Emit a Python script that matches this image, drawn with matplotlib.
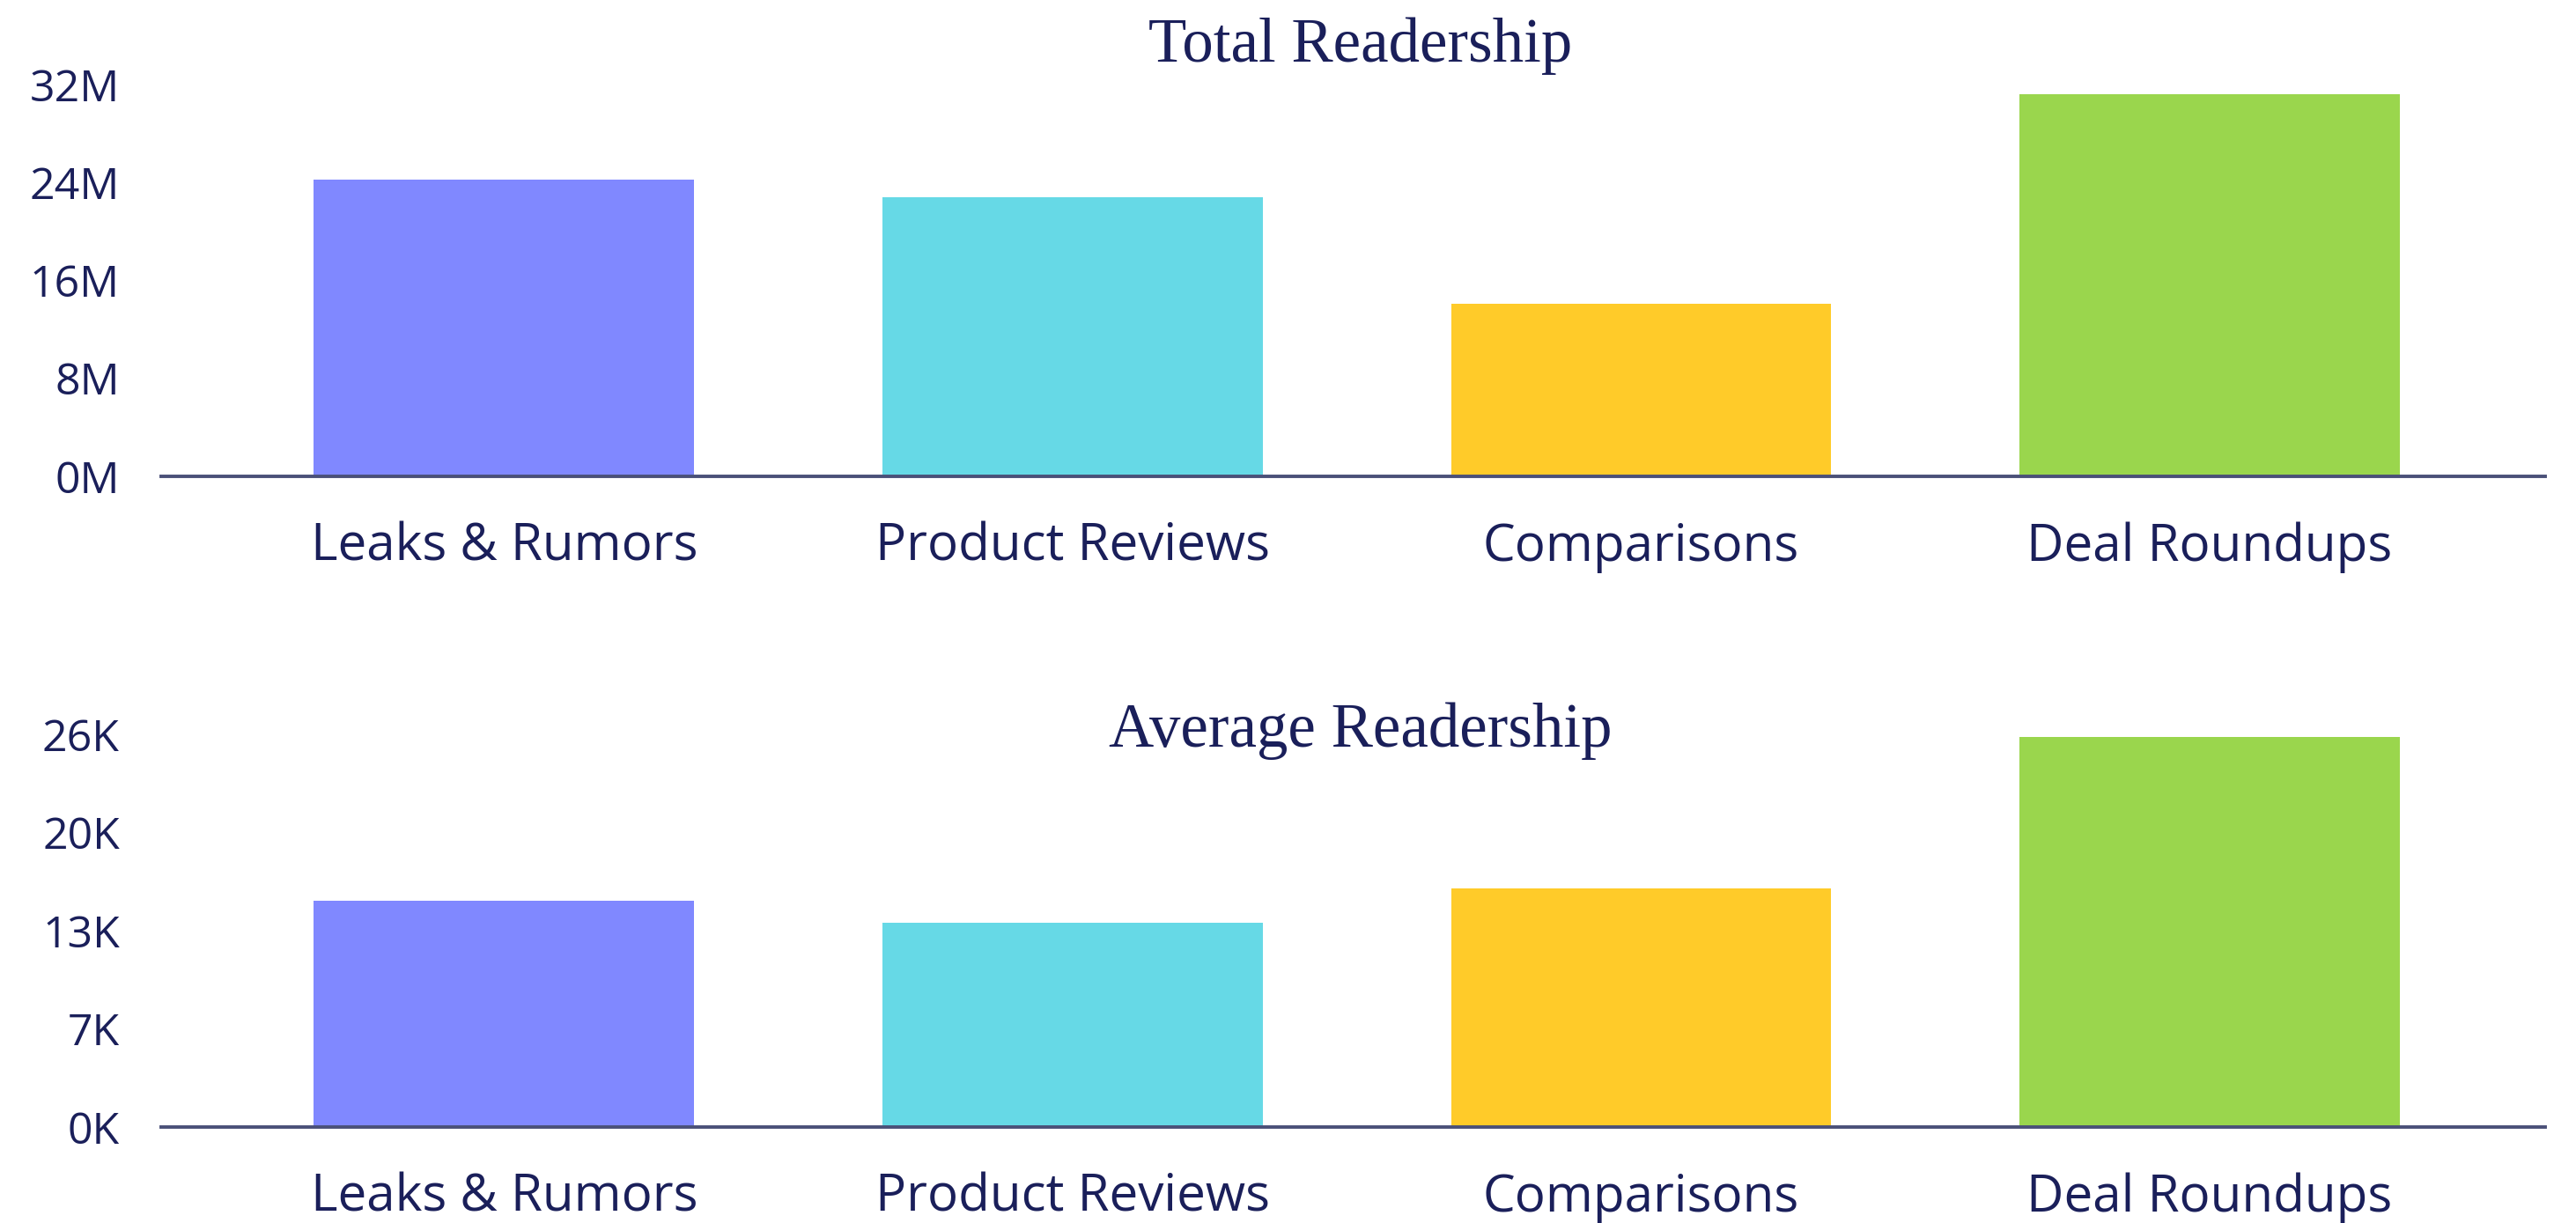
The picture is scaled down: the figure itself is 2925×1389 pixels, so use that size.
import matplotlib
matplotlib.use("Agg")
import matplotlib.pyplot as plt

categories = ["Leaks & Rumors", "Product Reviews", "Comparisons", "Deal Roundups"]
total_readership = [24.2e6, 22.8e6, 14.1e6, 31.2e6]
average_readership = [15.0e3, 13.5e3, 15.8e3, 25.8e3]
total_ticks = [0, 8e6, 16e6, 24e6, 32e6]
total_tick_labels = ["0M", "8M", "16M", "24M", "32M"]
avg_ticks = [0, 6500, 13000, 19500, 26000]
avg_tick_labels = ["0K", "7K", "13K", "20K", "26K"]
colors = ["#8088FF", "#66D9E6", "#FFCB29", "#9AD64D"]

TEXT = "#1A1F5A"
AXLINE = "#4A5078"
W, H = 2925, 1389
fig = plt.figure(figsize=(W / 100, H / 100), dpi=100)

def px_axes(left, right, top, bottom):
    return fig.add_axes([left / W, 1 - bottom / H, (right - left) / W, (bottom - top) / H])

def draw(ax, values, ticks, labels, ymax, title, title_y):
    x = list(range(len(categories)))
    ax.bar(x, values, width=0.669, color=colors, zorder=2)
    ax.set_xlim(-0.603, 3.59)
    ax.set_ylim(0, ymax)
    ax.set_yticks(ticks)
    ax.set_yticklabels(labels)
    ax.set_xticks(x)
    ax.set_xticklabels(categories)
    for s in ["top", "right", "left"]:
        ax.spines[s].set_visible(False)
    ax.spines["bottom"].set_color(AXLINE)
    ax.spines["bottom"].set_linewidth(2.8)
    ax.spines["bottom"].set_zorder(3)
    ax.tick_params(axis="y", length=0, pad=34, labelsize=36, labelcolor=TEXT)
    ax.tick_params(axis="x", length=0, pad=37, labelsize=42, labelcolor=TEXT)
    for t in ax.get_yticklabels() + ax.get_xticklabels():
        t.set_fontfamily("Open Sans")
    fig.text(1545 / W, 1 - title_y / H, title, ha="center", va="center",
             fontsize=51, color=TEXT, family="Liberation Serif")

ax1 = px_axes(183, 2890, 96, 541)
draw(ax1, total_readership, total_ticks, total_tick_labels, 32e6, "Total Readership", 52)
ax2 = px_axes(183, 2890, 834, 1280)
draw(ax2, average_readership, avg_ticks, avg_tick_labels, 26000, "Average Readership", 830)

fig.savefig("out.png", dpi=100, facecolor="white")
